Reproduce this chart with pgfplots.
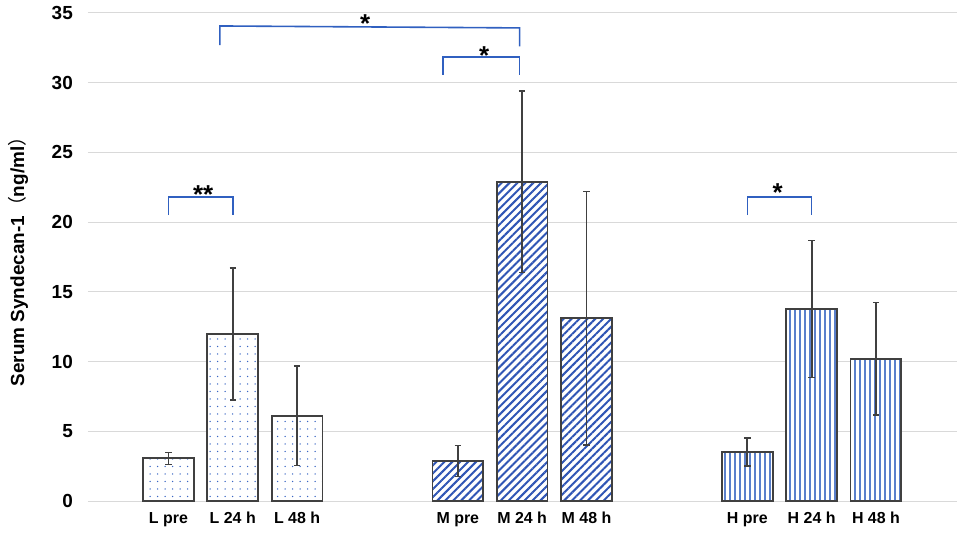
\documentclass[border=0pt]{standalone}
\usepackage{pgfplots}
\pgfplotsset{compat=1.18}
\usepackage{fontspec}
\setmainfont{Liberation Sans}
\newfontfamily\cjk{Noto Sans CJK JP}
\usetikzlibrary{patterns.meta}
\definecolor{edge}{HTML}{404040}
\definecolor{dotc}{HTML}{3A66C4}
\definecolor{hatch}{HTML}{2F55B5}
\definecolor{vline}{HTML}{5A80CC}
\definecolor{brk}{HTML}{3060C0}
\definecolor{gridc}{HTML}{D9D9D9}
\begin{document}
\begin{tikzpicture}
\useasboundingbox (-88bp,-33bp) rectangle (869bp,501bp);
\begin{axis}[
  scale only axis, width=869bp, height=488bp, anchor=south west, at={(0,0)},
  xmin=-1.25, xmax=12.26, ymin=0, ymax=35,
  ytick={0,5,...,35},
  xtick={0,1,2,4.5,5.5,6.5,9,10,11},
  xticklabels={L pre, L 24 h, L 48 h, M pre, M 24 h, M 48 h, H pre, H 24 h, H 48 h},
  axis line style={draw=none}, major tick length=0pt,
  ymajorgrids, grid style={gridc, line width=1bp},
  /pgf/number format/assume math mode=true,
  yticklabel style={font=\bfseries\fontsize{19}{20}\selectfont, anchor=east, inner sep=0pt, xshift=-15bp},
  xticklabel style={font=\bfseries\fontsize{16}{17}\selectfont, anchor=north, inner sep=0pt, yshift=-15bp, text height=0.72em, text depth=0.2em},
  every axis y label/.style={at={(axis description cs:-0.0806,0.5)}, rotate=90, anchor=center, font=\bfseries\fontsize{19}{20}\selectfont},
  ylabel={Serum Syndecan-1{\mdseries\cjk （}ng/ml{\mdseries\cjk ）}},
  clip=false,
]
% L group
\addplot[ybar, bar width=0.79, bar shift=0pt, draw=edge, line width=1.8bp,
  preaction={fill=white}, pattern={Dots[distance=7.5bp, radius=0.75bp]}, pattern color=dotc,
  error bars/.cd, y dir=both, y explicit,
  error bar style={draw=edge, line width=1.8bp},
  error mark options={draw=edge, line width=1.6bp, mark size=3.2bp, rotate=90}]
  coordinates {(0,3.06) +- (0,0.43) (1,11.98) +- (0,4.75) (2,6.11) +- (0,3.57)};
% M group
\addplot[ybar, bar width=0.79, bar shift=0pt, draw=edge, line width=1.8bp,
  preaction={fill=white}, pattern={Lines[angle=45, distance=5.6bp, line width=2bp]}, pattern color=hatch,
  error bars/.cd, y dir=both, y explicit,
  error bar style={draw=edge, line width=1.8bp},
  error mark options={draw=edge, line width=1.6bp, mark size=3.2bp, rotate=90}]
  coordinates {(4.5,2.87) +- (0,1.12) (5.5,22.9) +- (0,6.5) (6.5,13.1) +- (0,9.1)};
% H group
\addplot[ybar, bar width=0.79, bar shift=0pt, draw=edge, line width=1.8bp,
  preaction={fill=white}, pattern={Lines[angle=90, distance=5bp, line width=1.1bp]}, pattern color=vline,
  error bars/.cd, y dir=both, y explicit,
  error bar style={draw=edge, line width=1.8bp},
  error mark options={draw=edge, line width=1.6bp, mark size=3.2bp, rotate=90}]
  coordinates {(9,3.50) +- (0,1.0) (10,13.77) +- (0,4.9) (11,10.2) +- (0,4.05)};
% significance brackets
\addplot[brk, line width=1.6bp, sharp plot, mark=none] coordinates {(0,20.5) (0,21.8) (1,21.8) (1,20.5)};
\addplot[brk, line width=1.6bp, sharp plot, mark=none] coordinates {(4.27,30.56) (4.27,31.85) (5.46,31.85) (5.46,30.56)};
\addplot[brk, line width=1.6bp, sharp plot, mark=none] coordinates {(0.8,32.7) (0.8,34.07) (5.46,33.93) (5.46,32.6)};
\addplot[brk, line width=1.6bp, sharp plot, mark=none] coordinates {(9,20.5) (9,21.8) (10,21.8) (10,20.5)};
\node[font=\bfseries\fontsize{26}{26}\selectfont] at (axis cs:0.54,22.0) {**};
\node[font=\bfseries\fontsize{26}{26}\selectfont] at (axis cs:4.91,31.94) {*};
\node[font=\bfseries\fontsize{26}{26}\selectfont] at (axis cs:3.06,34.24) {*};
\node[font=\bfseries\fontsize{26}{26}\selectfont] at (axis cs:9.47,22.14) {*};
\end{axis}
\end{tikzpicture}
\end{document}
